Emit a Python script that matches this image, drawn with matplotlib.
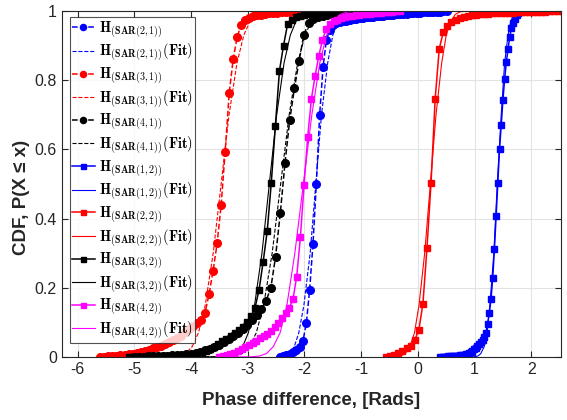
import numpy as np
import matplotlib.pyplot as plt

plt.rcParams['font.family'] = ['Liberation Sans', 'DejaVu Sans']
plt.rcParams['mathtext.fontset'] = 'cm'
plt.rcParams['axes.unicode_minus'] = False

# Empirical CDFs: bin range (first/last centre) and cumulative values
sar21_range = (-2.44, 0.51)
sar21_cdf = [0.0, 0.003, 0.006, 0.010, 0.015, 0.021, 0.030,
             0.046, 0.097, 0.194, 0.327, 0.500, 0.700, 0.837, 0.916, 0.945, 0.958,
             0.964, 0.967, 0.970, 0.972, 0.974, 0.976, 0.978, 0.979, 0.980, 0.981,
             0.982, 0.983, 0.984, 0.985, 0.986, 0.987, 0.988, 0.989, 0.990, 0.991,
             0.992, 0.992, 0.993, 0.994, 0.994, 0.995, 0.996, 0.996, 0.997, 0.997,
             0.998, 0.998, 0.999, 1.000]

sar31_range = (-5.60, -2.05)
sar31_cdf = [0.0, 0.001, 0.002, 0.003, 0.004, 0.005, 0.007, 0.008, 0.010, 0.012,
             0.015, 0.018, 0.021, 0.025, 0.029, 0.033, 0.037, 0.042, 0.048, 0.055,
             0.062, 0.071, 0.080, 0.090, 0.098,
             0.108, 0.128, 0.181, 0.249, 0.328, 0.439, 0.593, 0.762, 0.861, 0.926, 0.960,
             0.973, 0.980, 0.984, 0.987, 0.989, 0.991, 0.993, 0.994, 0.995, 0.996,
             0.997, 0.998, 0.999, 0.999, 1.000]

sar41_range = (-5.00, -0.85)
sar41_cdf = [0.0, 0.001, 0.001, 0.002, 0.002, 0.003, 0.003, 0.004, 0.005, 0.006,
             0.007, 0.008, 0.009,
             0.012, 0.015, 0.019, 0.024, 0.030, 0.036, 0.043, 0.051, 0.060, 0.070,
             0.081, 0.092,
             0.107, 0.121, 0.139, 0.163, 0.200, 0.290, 0.415, 0.560, 0.684, 0.776,
             0.856, 0.930,
             0.966, 0.976, 0.982, 0.986, 0.989, 0.991, 0.993, 0.994, 0.995, 0.996,
             0.997, 0.998, 0.999, 1.000]

sar12_range = (0.39, 1.80)
sar12_cdf = [0.0, 0.0, 0.001, 0.001, 0.001, 0.002, 0.002, 0.002, 0.003, 0.003,
             0.004, 0.004, 0.005, 0.006, 0.007, 0.009, 0.010, 0.012,
             0.015, 0.018, 0.022, 0.026, 0.031, 0.037, 0.043, 0.050,
             0.058, 0.070, 0.095, 0.128, 0.168, 0.229, 0.312, 0.408, 0.504,
             0.600, 0.671, 0.743, 0.803, 0.852, 0.890, 0.925, 0.950, 0.966, 0.978,
             0.988, 0.995, 1.000]

sar22_range = (-0.56, 2.61)
sar22_cdf = [0.0, 0.003, 0.007, 0.012, 0.018, 0.025, 0.032, 0.049, 0.078, 0.153,
             0.315, 0.504, 0.745, 0.890, 0.940, 0.957,
             0.968, 0.975, 0.980, 0.983, 0.986, 0.988, 0.989, 0.990, 0.991, 0.992,
             0.993, 0.993, 0.994, 0.994, 0.995, 0.995, 0.996, 0.996, 0.997, 0.997,
             0.997, 0.998, 0.998, 0.998, 0.999, 0.999, 0.999, 1.000, 1.000]

sar32_range = (-5.10, -1.22)
sar32_cdf = [0.0, 0.0, 0.001, 0.001, 0.001, 0.002, 0.002, 0.002, 0.003, 0.003,
             0.003, 0.004, 0.004, 0.004, 0.005, 0.005,
             0.006, 0.008, 0.011, 0.016, 0.022, 0.029, 0.037, 0.045, 0.053, 0.062,
             0.070, 0.079, 0.088, 0.100, 0.118,
             0.142, 0.194, 0.275, 0.364, 0.504, 0.668, 0.827, 0.900, 0.962,
             0.975, 0.981, 0.985, 0.988, 0.990, 0.992, 0.993, 0.994, 0.995, 0.996,
             0.997, 0.998, 0.999, 0.999, 1.000]

sar42_range = (-3.50, -0.32)
sar42_cdf = [0.0, 0.002, 0.005, 0.009, 0.012, 0.017, 0.022, 0.028, 0.034, 0.040,
             0.047, 0.054, 0.060, 0.066, 0.076, 0.088, 0.099, 0.112, 0.126, 0.141,
             0.168, 0.232, 0.346,
             0.497, 0.637, 0.746, 0.812, 0.870, 0.916, 0.947, 0.962,
             0.970, 0.975, 0.979, 0.982, 0.984, 0.986, 0.988, 0.989, 0.990, 0.991,
             0.992, 0.993, 0.994, 0.995, 0.996, 0.997, 0.998, 0.999, 1.000]

# Fitted CDFs: phase values at the common probability levels below
fit_p = [0, 0.0005, 0.003, 0.01, 0.03, 0.07, 0.15, 0.3, 0.5, 0.7, 0.85, 0.93,
         0.97, 0.99, 0.997, 0.9995, 1]
fit21 = [-2.50, -2.46, -2.35, -2.27, -2.18, -2.10, -2.01, -1.90, -1.80, -1.70,
         -1.59, -1.50, -1.42, -1.33, -1.25, -1.14, 0.51]
fit31 = [-5.60, -4.36, -4.21, -4.10, -3.98, -3.87, -3.75, -3.61, -3.47, -3.33,
         -3.19, -3.07, -2.96, -2.84, -2.73, -2.58, -2.05]
fit41 = [-5.00, -3.37, -3.22, -3.10, -2.97, -2.85, -2.72, -2.57, -2.42, -2.27,
         -2.12, -1.99, -1.88, -1.74, -1.62, -1.47, -0.85]
fit12 = [0.39, 0.99, 1.06, 1.11, 1.17, 1.22, 1.27, 1.34, 1.40, 1.47, 1.53, 1.59,
         1.64, 1.69, 1.74, 1.81, 1.85]
fit22 = [-0.56, -0.41, -0.30, -0.22, -0.14, -0.06, 0.02, 0.12, 0.22, 0.32, 0.42,
         0.50, 0.58, 0.66, 0.74, 0.85, 2.61]
fit32 = [-5.10, -3.44, -3.31, -3.20, -3.09, -2.99, -2.88, -2.75, -2.62, -2.49,
         -2.36, -2.25, -2.15, -2.04, -1.93, -1.80, -1.22]
fit42 = [-3.50, -2.94, -2.79, -2.67, -2.55, -2.43, -2.31, -2.17, -2.02, -1.87,
         -1.73, -1.61, -1.49, -1.37, -1.25, -1.10, -0.32]

names = ['2,1', '3,1', '4,1', '1,2', '2,2', '3,2', '4,2']
colors = ['#0000ff', '#ff0000', '#000000', '#0000ff', '#ff0000', '#000000', '#ff00ff']

series = [
    (sar21_range, sar21_cdf, fit21),
    (sar31_range, sar31_cdf, fit31),
    (sar41_range, sar41_cdf, fit41),
    (sar12_range, sar12_cdf, fit12),
    (sar22_range, sar22_cdf, fit22),
    (sar32_range, sar32_cdf, fit32),
    (sar42_range, sar42_cdf, fit42),
]

fig = plt.figure(figsize=(5.67, 4.2), dpi=100)
ax = fig.add_axes([0.109, 0.15, 0.880, 0.824])

for name, color, (rng, cdf, fit) in zip(names, colors, series):
    x = np.linspace(rng[0], rng[1], len(cdf))
    first = name.endswith(',1')
    ls = '--' if first else '-'
    marker = 'o' if first else 's'
    ms = 5.5 if first else 4.5
    lab = r'$\mathbf{H}_{\mathbf{(SAR(' + name + r'))}}$'
    ax.plot(x, cdf, ls=ls, marker=marker, color=color, ms=ms, lw=1.1, label=lab)
    ax.plot(fit, fit_p, ls=ls, color=color, lw=0.8,
            label=r'$\mathbf{H}_{\mathbf{(SAR(' + name + r'))}}\mathbf{(Fit)}$')

ax.set_xlim(-6.28, 2.52)
ax.set_ylim(0, 1)
ax.set_xticks(np.arange(-6, 3, 1))
ax.set_yticks([0, 0.2, 0.4, 0.6, 0.8, 1])
ax.set_yticklabels(['0', '0.2', '0.4', '0.6', '0.8', '1'])
ax.tick_params(direction='in', top=True, right=True, labelsize=11.5,
               colors='#262626', length=4)
ax.grid(True, color='#e3e3e3', lw=0.8)
ax.set_axisbelow(True)
for sp in ax.spines.values():
    sp.set_color('#262626')
    sp.set_linewidth(0.8)

ax.set_xlabel('Phase difference, [Rads]', fontsize=13.5, fontweight='bold',
              color='#262626', labelpad=11)
ax.set_ylabel('CDF, P(X \u2264 x)', fontsize=13.5, fontweight='bold',
              color='#262626')
ax.yaxis.set_label_coords(-0.064, 0.46)

leg = ax.legend(loc='upper left', bbox_to_anchor=(0.016, 0.983), borderaxespad=0,
                fontsize=10.3, frameon=True, fancybox=False, edgecolor='#262626',
                handlelength=1.6, handletextpad=0.3, labelspacing=0.12,
                borderpad=0.15, markerscale=0.8)
leg.get_frame().set_linewidth(0.8)

fig.savefig('out.png', dpi=100)
